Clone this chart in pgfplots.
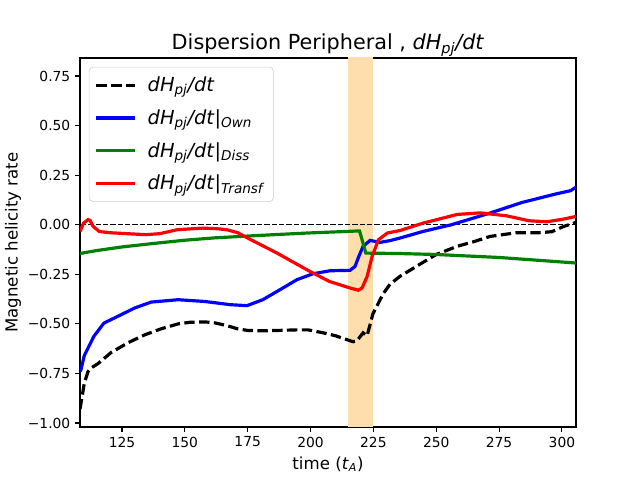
\documentclass[border=0pt]{standalone}
\usepackage{fontspec}
\setmainfont{DejaVu Sans}
\usepackage{pgfplots}
\pgfplotsset{compat=1.18}
\definecolor{band}{RGB}{253,222,172}
\definecolor{mgreen}{RGB}{0,128,0}
\begin{document}
\begin{tikzpicture}
\path[use as bounding box] (0,0) rectangle (6.4in,4.8in);
\begin{axis}[
  at={(0.8in,0.53in)}, anchor=south west,
  scale only axis, width=4.96in, height=3.69in,
  xmin=108.3, xmax=305.6, ymin=-1.02, ymax=0.841,
  xtick={125,150,175,200,225,250,275,300},
  xticklabels={125,150,175,200,225,250,275,300},
  ytick={-1,-0.75,-0.5,-0.25,0,0.25,0.5,0.75},
  yticklabels={−1.00,−0.75,−0.50,−0.25,0.00,0.25,0.50,0.75},
  tick align=outside, major tick length=3.5pt,
  tick style={black, line width=0.8pt},
  xtick pos=bottom, ytick pos=left,
  axis line style={line width=0.8pt},
  ticklabel style={font=\fontsize{10}{12}\selectfont},
  xlabel={time (\textit{t}\textsubscript{\textit{A}})},
  ylabel={Magnetic helicity rate},
  ylabel style={yshift=-2pt},
  label style={font=\fontsize{12}{14}\selectfont},
  title={Dispersion Peripheral , \textit{dH\textsubscript{pj}/dt}},
  title style={font=\fontsize{15}{18}\selectfont, yshift=-8.5pt},
  legend cell align=left,
  legend style={at={(0.018,0.976)}, anchor=north west, draw=black!20,
    rounded corners=3pt, font=\fontsize{14}{17}\selectfont,
    row sep=7.5pt, inner ysep=5pt, inner xsep=4pt, fill=white,
    /tikz/every odd column/.append style={column sep=6pt}},
  legend image code/.code={\draw[#1] (0pt,0pt) -- (28pt,0pt);},
]
\addplot[fill=band, draw=none, forget plot] coordinates {(215,-1.1) (215,1) (225,1) (225,-1.1)} -- cycle;
\addplot[black, line width=1pt, dash pattern=on 3.7pt off 1.6pt, forget plot] coordinates {(100,0) (310,0)};
\addplot[black, line width=2.3pt, dash pattern=on 7.5pt off 3.2pt] coordinates {
(108.3,-0.93) (108.7,-0.90) (110,-0.80) (111.5,-0.74) (113,-0.72) (115.5,-0.70)
(120.6,-0.645) (127.4,-0.595) (134.1,-0.555) (140.5,-0.525) (147.3,-0.50)
(152,-0.492) (158,-0.49) (162,-0.495) (166.8,-0.509) (171,-0.525) (175,-0.533)
(181,-0.535) (187,-0.533) (195,-0.530) (199,-0.530) (205,-0.545) (210,-0.56)
(216.9,-0.59) (218.5,-0.585) (220.9,-0.545) (222.5,-0.56) (224.8,-0.45)
(228.8,-0.35) (231.6,-0.30) (235.6,-0.26) (244.7,-0.19) (250,-0.15)
(258.3,-0.109) (265,-0.085) (271.4,-0.059) (282,-0.04) (291,-0.04) (296,-0.035)
(300.4,-0.01) (305.6,0.012)};
\addlegendentry{\textit{dH\textsubscript{pj}/dt}}
\addplot[blue, line width=2.3pt] coordinates {
(108.3,-0.74) (108.7,-0.73) (110,-0.66) (113.8,-0.563) (117.8,-0.496)
(124.6,-0.454) (130,-0.42) (136.6,-0.39) (147.3,-0.378) (158,-0.387)
(168,-0.403) (174.7,-0.408) (181,-0.378) (187.8,-0.328) (194.6,-0.277)
(201,-0.247) (207.8,-0.232) (215.7,-0.230) (217.7,-0.21) (219.2,-0.16)
(220.9,-0.109) (223.7,-0.079) (227.6,-0.089) (231.6,-0.08) (235.6,-0.067)
(244.7,-0.034) (256,0) (271.4,0.059) (284,0.112) (297.5,0.155) (303.5,0.172)
(305.6,0.19)};
\addlegendentry{\textit{dH\textsubscript{pj}/dt}{\upshape|}\textsubscript{\textit{Own}}}
\addplot[mgreen, line width=2.3pt] coordinates {
(108.3,-0.145) (115,-0.13) (125,-0.112) (137,-0.095) (150,-0.078) (162,-0.066)
(175,-0.057) (187,-0.049) (200,-0.041) (210,-0.036) (219.5,-0.031) (222,-0.143)
(235,-0.145) (250,-0.150) (275,-0.165) (305.6,-0.193)};
\addlegendentry{\textit{dH\textsubscript{pj}/dt}{\upshape|}\textsubscript{\textit{Diss}}}
\addplot[red, line width=2.3pt] coordinates {
(108.3,-0.034) (109.7,0.008) (111.5,0.026) (112.3,0.022) (113.5,-0.008)
(116,-0.034) (120,-0.040) (127,-0.045) (134.5,-0.050) (140,-0.045) (147,-0.025)
(157,-0.017) (163,-0.020) (167,-0.026) (171,-0.040) (175,-0.067) (186.7,-0.143)
(199,-0.230) (207.5,-0.286) (216,-0.320) (219,-0.33) (220.5,-0.319)
(222.5,-0.261) (224.5,-0.160) (227,-0.076) (230.5,-0.042) (235.6,-0.029)
(244.7,0.008) (258.3,0.052) (267.5,0.06) (278,0.045) (287,0.02) (294,0.015)
(300.4,0.028) (305.6,0.042)};
\addlegendentry{\textit{dH\textsubscript{pj}/dt}{\upshape|}\textsubscript{\textit{Transf}}}
\end{axis}
\end{tikzpicture}
\end{document}
